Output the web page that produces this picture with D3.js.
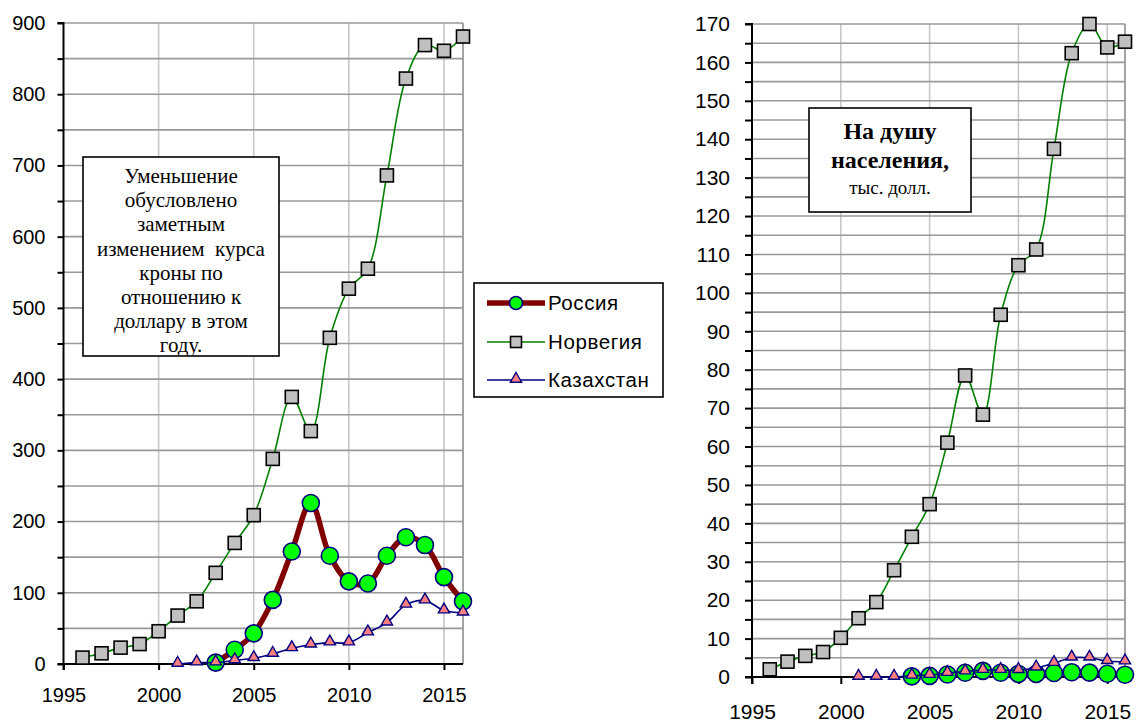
<!DOCTYPE html>
<html><head><meta charset="utf-8">
<script src="https://cdn.jsdelivr.net/npm/d3@7"></script>
<style>
body{margin:0;background:#fff;}
svg{display:block;}
.ax text{font-family:"Liberation Sans",Arial,sans-serif;fill:#000;}
</style></head>
<body>
<svg id="c" width="1136" height="724"></svg>
<script>
// ---------- DATA ----------
const seriesNames = ["Россия", "Норвегия", "Казахстан"];
// Left chart: total, bln USD
const yearsRussiaL = [2003,2004,2005,2006,2007,2008,2009,2010,2011,2012,2013,2014,2015,2016];
const russiaL = [2,20,43,90,158,226,152,116,113,152,178,167,122,88];
const yearsNorway = [1996,1997,1998,1999,2000,2001,2002,2003,2004,2005,2006,2007,2008,2009,2010,2011,2012,2013,2014,2015,2016];
const norwayL = [9,15,23,28,46,68,88,128,170,209,288,375,327,458,527,555,686,822,869,861,881];
const yearsKaz = [2001,2002,2003,2004,2005,2006,2007,2008,2009,2010,2011,2012,2013,2014,2015,2016];
const kazL = [0,2,2,5,8,14,22,27,30,30,44,58,83,89,75,72];
// Right chart: per capita, thousand USD
const yearsRussiaR = [2004,2005,2006,2007,2008,2009,2010,2011,2012,2013,2014,2015,2016];
const russiaR = [0.15,0.3,0.65,1.1,1.6,1.1,0.8,0.8,1.05,1.25,1.15,0.85,0.6];
const norwayR = [2,4,5.5,6.5,10.2,15.3,19.5,27.8,36.5,45,61,78.5,68.3,94.3,107.2,111.3,137.5,162.4,170,163.9,165.4];
const kazR = [0,0,0,0.3,0.5,1.0,1.4,1.8,1.8,1.75,2.4,3.6,5.0,5.0,4.1,4.0];
const xTicks = [1995,2000,2005,2010,2015];
const leftNote = ["Уменьшение","обусловлено","заметным","изменением  курса","кроны по","отношению к","доллару в этом","году."];
const rightNote = ["На душу","населения,","тыс. долл."];

const svg = d3.select("#c");

function drawChart(o){
  const g = svg.append("g");
  const x = d3.scaleLinear().domain([1995,2016]).range([o.x0,o.x1]);
  const y = d3.scaleLinear().domain([0,o.ymax]).range([o.y0,o.y1]);
  const minor = d3.range(0,o.ymax+0.001,o.minor);
  g.append("g").selectAll("line").data(xTicks.slice(1).concat([2016])).join("line")
    .attr("x1",d=>x(d)).attr("x2",d=>x(d)).attr("y1",y(o.ymax)).attr("y2",y(0))
    .attr("stroke","#c8c8c8").attr("stroke-width",1.6);
  g.append("g").selectAll("line").data(minor.slice(1)).join("line")
    .attr("x1",x(1995)).attr("x2",x(2016)).attr("y1",d=>y(d)).attr("y2",d=>y(d))
    .attr("stroke","#999").attr("stroke-width",1.6);
  g.append("line").attr("x1",x(2016)).attr("x2",x(2016)).attr("y1",y(o.ymax)).attr("y2",y(0))
    .attr("stroke","#999").attr("stroke-width",1.6);
  const ya = d3.axisLeft(y).tickValues(minor).tickSize(o.tickSize).tickPadding(o.ypad)
    .tickFormat(d=> (Math.round(d/o.major*1000)%1000===0) ? d3.format("d")(d) : "");
  g.append("g").attr("class","ax").attr("transform",`translate(${x(1995)},0)`).call(ya)
    .call(s=>{s.select(".domain").attr("stroke","#000").attr("stroke-width",2).attr("d",`M-${o.tickSize},${y(o.ymax)}H0V${y(0)+o.tickSize}`);
      s.selectAll(".tick line").attr("stroke","#000").attr("stroke-width",2);
      s.selectAll("text").style("font-size",o.fs+"px");});
  const xa = d3.axisBottom(x).tickValues(xTicks).tickSize(o.tickSize).tickPadding(o.xpad).tickFormat(d3.format("d"));
  g.append("g").attr("class","ax").attr("transform",`translate(0,${y(0)})`).call(xa)
    .call(s=>{s.select(".domain").attr("stroke","#000").attr("stroke-width",2).attr("d",`M${x(1995)-o.tickSize},0H${x(2016)}`);
      s.selectAll(".tick line").attr("stroke","#000").attr("stroke-width",2);
      s.selectAll("text").style("font-size",o.fs+"px");});

  const line = d3.line().x(d=>x(d[0])).y(d=>y(d[1])).curve(d3.curveCatmullRom.alpha(0.5));
  const zip = (a,b)=>a.map((v,i)=>[v,b[i]]);
  const ru = zip(o.ruYears,o.ru), no = zip(yearsNorway,o.no), kz = zip(yearsKaz,o.kz);
  g.append("path").attr("d",line(ru)).attr("fill","none").attr("stroke","#800000").attr("stroke-width",5.5);
  g.append("g").selectAll("circle").data(ru).join("circle")
    .attr("cx",d=>x(d[0])).attr("cy",d=>y(d[1])).attr("r",o.cr)
    .attr("fill","#00ff00").attr("stroke","#000080").attr("stroke-width",1.6);
  g.append("path").attr("d",line(no)).attr("fill","none").attr("stroke","#008000").attr("stroke-width",1.6);
  const sq = o.sq;
  g.append("g").selectAll("rect").data(no).join("rect")
    .attr("x",d=>x(d[0])-sq/2).attr("y",d=>y(d[1])-sq/2).attr("width",sq).attr("height",sq)
    .attr("fill","#c0c0c0").attr("stroke","#000").attr("stroke-width",1.6);
  g.append("path").attr("d",line(kz)).attr("fill","none").attr("stroke","#000080").attr("stroke-width",1.6);
  const tri = d3.symbol().type(d3.symbolTriangle).size(o.tri);
  g.append("g").selectAll("path").data(kz).join("path")
    .attr("transform",d=>`translate(${x(d[0])},${y(d[1])-1})`).attr("d",tri)
    .attr("fill","#ff8080").attr("stroke","#000080").attr("stroke-width",1.4);
  return {g,x,y};
}

drawChart({x0:63.5,x1:463,y0:664,y1:23,ymax:900,minor:50,major:100,tickSize:6,ypad:12,xpad:18,fs:20,
  ruYears:yearsRussiaL,ru:russiaL,no:norwayL,kz:kazL,cr:8.5,sq:13,tri:55});
drawChart({x0:752,x1:1125,y0:677,y1:24,ymax:170,minor:5,major:10,tickSize:7,ypad:15,xpad:20,fs:21,
  ruYears:yearsRussiaR,ru:russiaR,no:norwayR,kz:kazR,cr:8.5,sq:13,tri:55});

// Left note box
const lb = svg.append("g");
lb.append("rect").attr("x",83).attr("y",157).attr("width",196).attr("height",199)
  .attr("fill","#fff").attr("stroke","#000").attr("stroke-width",1.6);
const clip = svg.append("defs").append("clipPath").attr("id","lclip");
clip.append("rect").attr("x",84).attr("y",158).attr("width",194).attr("height",197);
lb.append("g").attr("clip-path","url(#lclip)").selectAll("text").data(leftNote).join("text")
  .attr("x",181).attr("y",(d,i)=>183+i*24.2).attr("text-anchor","middle")
  .style("font-family","'Liberation Serif','Times New Roman',serif").style("font-size","21px")
  .style("white-space","pre").text(d=>d);

// Right note box
const rb = svg.append("g");
rb.append("rect").attr("x",809).attr("y",108).attr("width",162).attr("height",104)
  .attr("fill","#fff").attr("stroke","#000").attr("stroke-width",1.6);
rb.selectAll("text").data(rightNote).join("text")
  .attr("x",890).attr("y",(d,i)=>[139,168,194][i]).attr("text-anchor","middle")
  .style("font-family","'Liberation Serif','Times New Roman',serif")
  .style("font-size",(d,i)=>i<2?"24px":"19px").style("font-weight",(d,i)=>i<2?"bold":"normal")
  .text(d=>d);

// Legend
const lg = svg.append("g");
lg.append("rect").attr("x",474).attr("y",283).attr("width",189).attr("height",114)
  .attr("fill","#fff").attr("stroke","#000").attr("stroke-width",1.6);
const rows = [303,342,380];
const tri = d3.symbol().type(d3.symbolTriangle).size(55);
seriesNames.forEach((n,i)=>{
  const yy = rows[i];
  const cx = 516;
  if(i===0){
    lg.append("line").attr("x1",487).attr("x2",545).attr("y1",yy).attr("y2",yy).attr("stroke","#800000").attr("stroke-width",5.5);
    lg.append("circle").attr("cx",cx).attr("cy",yy).attr("r",6.5).attr("fill","#00ff00").attr("stroke","#000080").attr("stroke-width",1.6);
  } else if(i===1){
    lg.append("line").attr("x1",487).attr("x2",545).attr("y1",yy).attr("y2",yy).attr("stroke","#008000").attr("stroke-width",1.6);
    lg.append("rect").attr("x",cx-5.5).attr("y",yy-5.5).attr("width",11).attr("height",11).attr("fill","#c0c0c0").attr("stroke","#000").attr("stroke-width",1.6);
  } else {
    lg.append("line").attr("x1",487).attr("x2",545).attr("y1",yy).attr("y2",yy).attr("stroke","#000080").attr("stroke-width",1.6);
    lg.append("path").attr("transform",`translate(${cx},${yy-1})`).attr("d",tri).attr("fill","#ff8080").attr("stroke","#000080").attr("stroke-width",1.4);
  }
  lg.append("text").attr("x",548).attr("y",yy+7).style("font-family","'Liberation Sans',Arial,sans-serif")
    .style("font-size","20.5px").style("letter-spacing","0.6px").text(n);
});
</script>
</body></html>
